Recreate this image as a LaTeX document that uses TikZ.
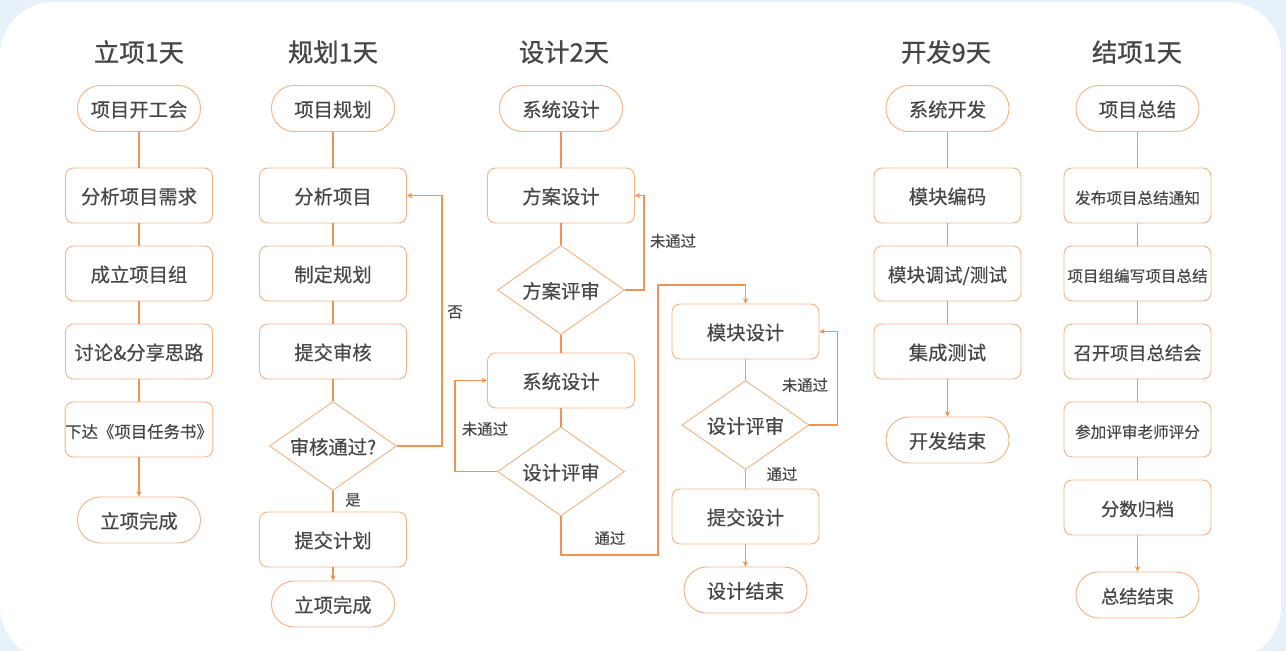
\documentclass[tikz,border=0pt]{standalone}
\usepackage{fontspec}
\setmainfont{Noto Sans CJK SC}
\newfontfamily\midfont{Noto Sans CJK SC}[FakeBold=0.3]
\newfontfamily\headfont{Noto Sans CJK SC}[FakeBold=0.9]
\usetikzlibrary{shapes.geometric,arrows.meta}
\definecolor{boxline}{RGB}{244,180,132}
\definecolor{conline}{RGB}{239,148,82}
\definecolor{txt}{RGB}{70,70,70}
\definecolor{bgblue}{RGB}{230,241,250}
\def\fs#1{\fontsize{#1}{#1}\midfont\selectfont}

\begin{document}
\begin{tikzpicture}[x=0.75pt, y=-0.75pt,
		title/.style={text=txt, font=\fontsize{19pt}{19pt}\headfont\selectfont},
		stadium/.style={draw=boxline, line width=0.7pt, rounded corners=17pt, minimum width=92.25pt, minimum height=34.5pt, inner sep=0pt, text height=14pt, text depth=1.5pt, text=txt, font=\fs{14.5pt}},
		stepbox/.style={draw=boxline, line width=0.7pt, rounded corners=6pt, minimum width=110.25pt, minimum height=41.25pt, inner sep=0pt, text height=14pt, text depth=1.5pt, text=txt, font=\fs{14.5pt}},
		check/.style={draw=boxline, line width=0.7pt, diamond, aspect=1.43, minimum width=95.25pt, minimum height=66.75pt, inner sep=0pt, text height=14pt, text depth=1.5pt, text=txt, font=\fs{14.5pt}},
		link/.style={draw=conline, line width=0.9pt},
		tip/.style={link, -{Stealth[length=4pt,width=4pt]}},
		note/.style={text=txt, font=\fs{11.5pt}}]
		%%%%% START %%%%%
		
		\useasboundingbox (0,0) rectangle (1286,651);
		\fill[bgblue] (0,0) rectangle (1286,651);
		\fill[white, rounded corners=40pt] (0,2) rectangle (1281,660);
		
		%%%%% 立项 %%%%%
		\node[title] (t1) at (139,52) {立项1天};
		\node[stadium] (a0) at (139,108.5) {项目开工会};
		\node[stepbox] (a1) at (139,195.5) {分析项目需求};
		\node[stepbox] (a2) at (139,273.5) {成立项目组};
		\node[stepbox] (a3) at (139,351.5) {讨论\&分享思路};
		\node[stepbox, font=\fs{12.3pt}] (a4) at (139,429.5) {下达《项目任务书》};
		\node[stadium] (a5) at (139,520) {立项完成};
		
		\draw[link] (a0) -- (a1);
		\draw[link] (a1) -- (a2);
		\draw[link] (a2) -- (a3);
		\draw[link] (a3) -- (a4);
		\draw[tip] (a4) -- (a5);
		
		%%%%% 规划 %%%%%
		\node[title] (t2) at (333,52) {规划1天};
		\node[stadium] (b0) at (333,108.5) {项目规划};
		\node[stepbox] (b1) at (333,195.5) {分析项目};
		\node[stepbox] (b2) at (333,273.5) {制定规划};
		\node[stepbox] (b3) at (333,351.5) {提交审核};
		\node[check] (b4) at (333,446) {审核通过?};
		\node[stepbox] (b5) at (333,539.5) {提交计划};
		\node[stadium] (b6) at (333,604) {立项完成};
		
		\draw[link] (b0) -- (b1);
		\draw[link] (b1) -- (b2);
		\draw[link] (b2) -- (b3);
		\draw[link] (b3) -- (b4);
		\draw[link] (b4) -- (b5);
		\draw[tip] (b5) -- (b6);
		\draw[tip] (b4.east) -- ++(45,0) |- (b1.east);
		\node[note] (n1) at (455,312) {否};
		\node[note] (n2) at (353,500) {是};
		
		%%%%% 设计 %%%%%
		\node[title] (t3) at (564,52) {设计2天};
		\node[stadium] (c0) at (561,108.5) {系统设计};
		\node[stepbox] (c1) at (561,195.5) {方案设计};
		\node[check] (c2) at (561,290) {方案评审};
		\node[stepbox] (c3) at (561,380.5) {系统设计};
		\node[check] (c4) at (561,471.5) {设计评审};
		
		\draw[link] (c0) -- (c1);
		\draw[link] (c1) -- (c2);
		\draw[link] (c2) -- (c3);
		\draw[link] (c3) -- (c4);
		\draw[tip] (c2.east) -- ++(19,0) |- (c1.east);
		\draw[tip] (c4.west) -- ++(-42,0) |- (c3.west);
		\node[note] (n3) at (673,241) {未通过};
		\node[note] (n4) at (485,429) {未通过};
		
		\node[stepbox] (d1) at (745.5,331.5) {模块设计};
		\node[check] (d2) at (745.5,425) {设计评审};
		\node[stepbox] (d3) at (745.5,516.5) {提交设计};
		\node[stadium] (d4) at (745.5,590) {设计结束};
		
		\coordinate (p1) at (658,555);
		\coordinate (p2) at (658,285);
		\draw[tip] (c4.south) |- (p1) -- (p2) -| (d1.north);
		\node[note] (n5) at (610,538) {通过};
		
		\draw[link] (d1) -- (d2);
		\draw[link] (d2) -- (d3);
		\draw[tip] (d3) -- (d4);
		\draw[tip] (d2.east) -- ++(28,0) |- (d1.east);
		\node[note] (n6) at (805,385) {未通过};
		\node[note] (n7) at (782,474) {通过};
		
		%%%%% 开发 %%%%%
		\node[title] (t5) at (946,52) {开发9天};
		\node[stadium] (e0) at (947.5,108.5) {系统开发};
		\node[stepbox] (e1) at (947.5,195.5) {模块编码};
		\node[stepbox, font=\fs{14pt}] (e2) at (947.5,273.5) {模块调试/测试};
		\node[stepbox] (e3) at (947.5,351.5) {集成测试};
		\node[stadium] (e4) at (947.5,440) {开发结束};
		
		\draw[link] (e0) -- (e1);
		\draw[link] (e1) -- (e2);
		\draw[link] (e2) -- (e3);
		\draw[tip] (e3) -- (e4);
		
		%%%%% 结项 %%%%%
		\node[title] (t6) at (1137,52) {结项1天};
		\node[stadium] (f0) at (1137.5,108.5) {项目总结};
		\node[stepbox, font=\fs{11.7pt}] (f1) at (1137.5,195.5) {发布项目总结通知};
		\node[stepbox, font=\fs{11.7pt}] (f2) at (1137.5,273.5) {项目组编写项目总结};
		\node[stepbox, font=\fs{13.7pt}] (f3) at (1137.5,351.5) {召开项目总结会};
		\node[stepbox, font=\fs{11.7pt}] (f4) at (1137.5,429.5) {参加评审老师评分};
		\node[stepbox, font=\fs{13.7pt}] (f5) at (1137.5,507.5) {分数归档};
		\node[stadium, font=\fs{13.7pt}] (f6) at (1137.5,595) {总结结束};
		
		\draw[link] (f0) -- (f1);
		\draw[link] (f1) -- (f2);
		\draw[link] (f2) -- (f3);
		\draw[link] (f3) -- (f4);
		\draw[link] (f4) -- (f5);
		\draw[tip] (f5) -- (f6);
		
		%%%%% END %%%%%
	\end{tikzpicture}
\end{document}
